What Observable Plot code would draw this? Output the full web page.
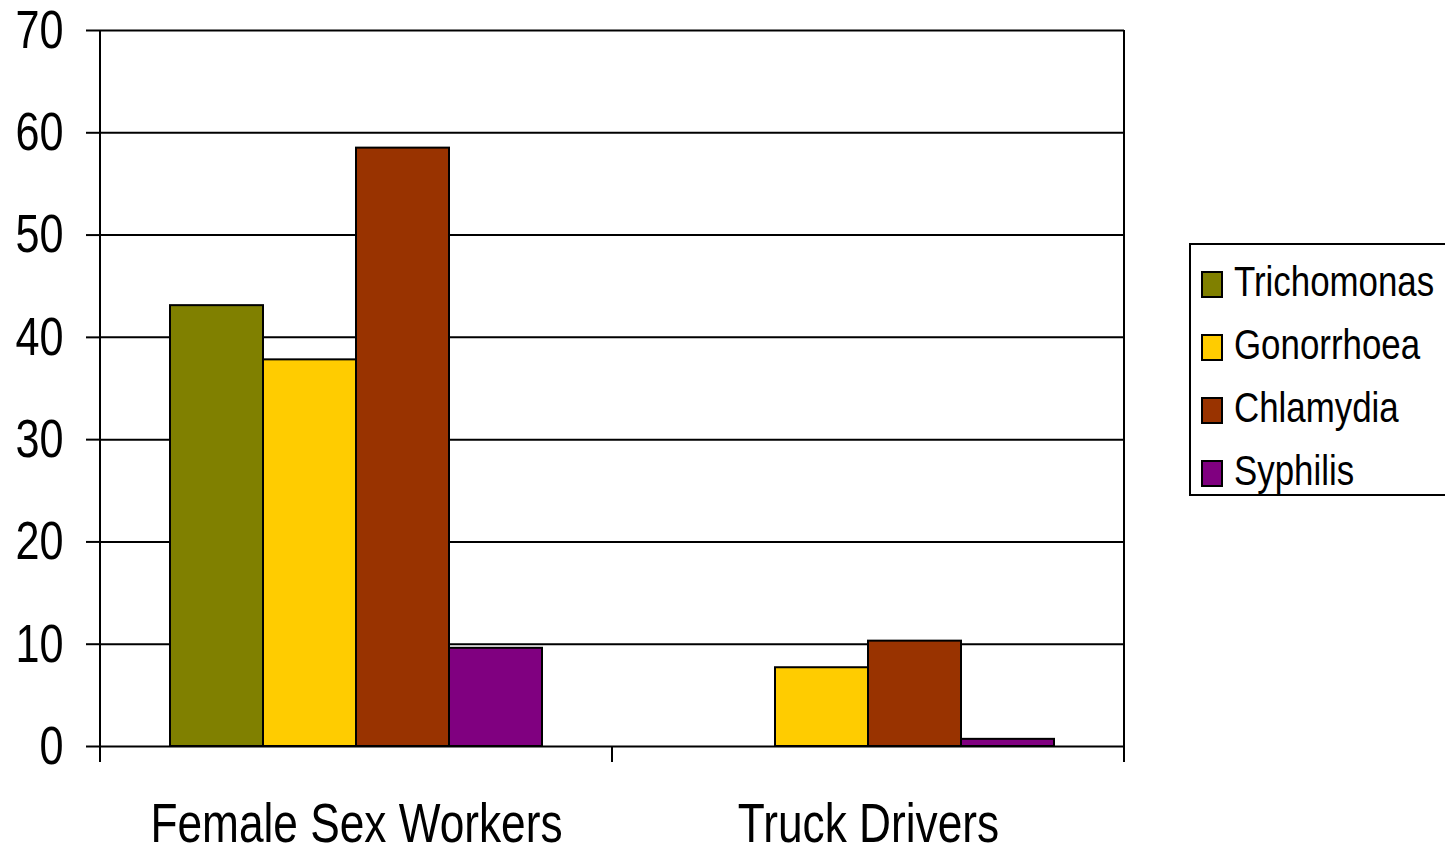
<!DOCTYPE html>
<html>
<head>
<meta charset="utf-8">
<script src="https://cdn.jsdelivr.net/npm/d3@7"></script>
<script src="https://cdn.jsdelivr.net/npm/@observablehq/plot@0.6"></script>
<style>
  html, body { margin: 0; padding: 0; background: #fff; }
  #wrap { position: relative; width: 1445px; height: 847px; overflow: hidden; font-family: "Liberation Sans", Arial, sans-serif; }
  #legend { position: absolute; left: 1189px; top: 243px; width: 280px; height: 253px; border: 2px solid #000; box-sizing: border-box; background: #fff; }
  .row { position: absolute; left: 10px; height: 50px; display: flex; align-items: center; color: #000; }
  .sw { width: 18px; height: 23px; border: 2px solid #000; margin-right: 11px; flex: none; position: relative; top: 2px; }
  .lbl { font-size: 42px; display: inline-block; transform: scaleX(0.83); transform-origin: left center; white-space: nowrap; }
</style>
</head>
<body>
<div id="wrap"></div>
<script>
const categories = ["Female Sex Workers", "Truck Drivers"];
const diseases = ["Trichomonas", "Gonorrhoea", "Chlamydia", "Syphilis"];
const trichomonas = [43.1, null];
const gonorrhoea = [37.8, 7.7];
const chlamydia = [58.5, 10.3];
const syphilis = [9.6, 0.7];
const colors = ["#808000", "#FFCC00", "#993300", "#800080"];
const yTicks = [0, 10, 20, 30, 40, 50, 60, 70];

const series = [trichomonas, gonorrhoea, chlamydia, syphilis];
const data = [];
categories.forEach((c, i) => diseases.forEach((d, j) => data.push({category: c, disease: d, value: series[j][i]})));

const font = '"Liberation Sans", Arial, sans-serif';

const chart = Plot.plot({
  width: 1445,
  height: 847,
  marginLeft: 100,
  marginRight: 321,
  marginTop: 30,
  marginBottom: 101,
  style: {fontFamily: font, background: "#fff", color: "#000"},
  fx: {domain: categories, paddingInner: 0, paddingOuter: 0, label: null, axis: null},
  x: {domain: diseases, paddingInner: 0, paddingOuter: 0.75, axis: null},
  y: {domain: [0, 70], label: null, axis: null},
  color: {domain: diseases, range: colors},
  marks: [
    Plot.ruleY(yTicks, {stroke: "#000", strokeWidth: 2}),
    Plot.barY(data.filter(d => d.value != null), {fx: "category", x: "disease", y: "value", fill: "disease", stroke: "#000", strokeWidth: 2, inset: 0}),
    Plot.axisY(yTicks, {tickSize: 14, tickPadding: 23, fontSize: 54, stroke: "#000", strokeWidth: 2, label: null, anchor: "left", fill: "#000"}),
    Plot.axisFx({anchor: "bottom", tickSize: 0, tickPadding: 56, fontSize: 56, label: null, fill: "#000", className: "fxlab"})
  ]
});

// category separators and frame sides, positioned with the chart's own scales
const fx = chart.scale("fx");
const y = chart.scale("y");
const svg = d3.select(chart);
const bw = fx.bandwidth;
const y0 = y.apply(0), yTop = y.apply(70);
const edges = categories.map(c => fx.apply(c)).concat([fx.apply(categories[categories.length - 1]) + bw]);
edges.forEach((x, i) => {
  const isOuter = i === 0 || i === edges.length - 1;
  svg.append("line")
    .attr("x1", x).attr("x2", x)
    .attr("y1", isOuter ? yTop : y0).attr("y2", y0 + 16)
    .attr("stroke", "#000").attr("stroke-width", 2);
});

// condensed lettering (narrow Arial look): scale each text horizontally about its anchor
svg.selectAll("text").each(function() {
  const t = d3.select(this);
  let tr = t.attr("transform") || "";
  const x = t.attr("x");
  if (x != null && !/em/.test(x)) {
    tr += ` translate(${+x || 0},0)`;
    t.attr("x", null);
  }
  const s = +t.attr("font-size") === 56 || (this.closest("g") && +this.closest("g").getAttribute("font-size") === 56) ? 0.79 : 0.8;
  t.attr("transform", tr + ` scale(${s},1)`);
  t.attr("fill", "#000");
});

const wrap = document.getElementById("wrap");
wrap.appendChild(chart);

const legend = document.createElement("div");
legend.id = "legend";
diseases.forEach((d, i) => {
  const row = document.createElement("div");
  row.className = "row";
  row.style.top = (12 + i * 63) + "px";
  const sw = document.createElement("div");
  sw.className = "sw";
  sw.style.background = colors[i];
  const t = document.createElement("span");
  t.className = "lbl";
  t.textContent = d;
  row.appendChild(sw);
  row.appendChild(t);
  legend.appendChild(row);
});
wrap.appendChild(legend);
</script>
</body>
</html>
